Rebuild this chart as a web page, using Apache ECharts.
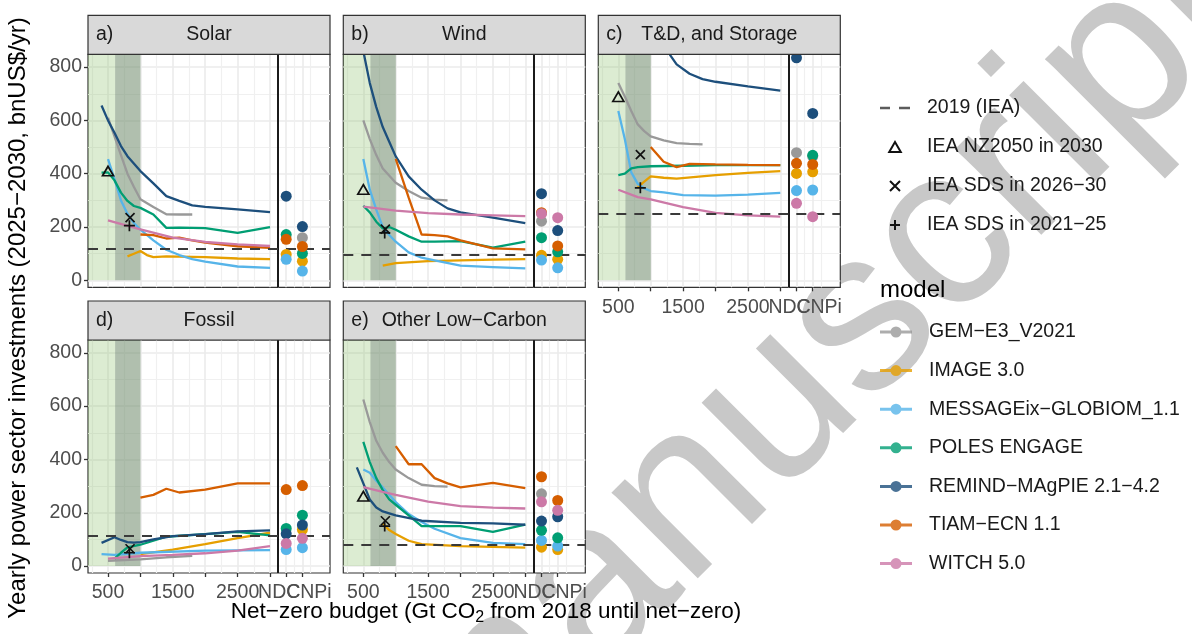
<!DOCTYPE html>
<html><head><meta charset="utf-8">
<script src="https://cdn.jsdelivr.net/npm/echarts@6/dist/echarts.min.js"></script>
<style>html,body{margin:0;padding:0;background:#fff}#c{width:1192px;height:634px}</style>
</head><body><div id="c"></div>
<script>
// ---------------- data ----------------
const MODELS = ['GEM\u2212E3_V2021','IMAGE 3.0','MESSAGEix\u2212GLOBIOM_1.1','POLES ENGAGE','REMIND\u2212MAgPIE 2.1\u22124.2','TIAM\u2212ECN 1.1','WITCH 5.0'];
const COLORS = ['#999999','#E69F00','#56B4E9','#009E73','#1D4F7C','#D55E00','#CC79A7'];
const PANEL_TITLES = ['Solar','Wind','T&D, and Storage','Fossil','Other Low\u2212Carbon'];
const PANEL_TAGS = ['a)','b)','c)','d)','e)'];
const REF_NAMES = ['2019 (IEA)','IEA NZ2050 in 2030','IEA SDS in 2026\u221230','IEA SDS in 2021\u221225'];
const X_TICKS = [500,1000,1500,2000,2500,3000];
const X_LABELS = [500,1500,2500];
const X_MINOR = [250,750,1250,1750,2250,2750,3125,3375,3625];
const Y_TICKS = [0,200,400,600,800];
const Y_MINOR = [100,300,500,700];
const POLICY = ['NDC','CNPi'];
const BUDGET_BANDS = [[null,1000],[610,1000]]; // light (from left edge), dark

// yearly investments per model: [budget, value]; order follows MODELS
const solarLines = [
  [[500,610],[600,540],[700,470],[800,400],[900,350],[1000,304],[1200,275],[1400,248],[1600,247],[1800,247]],
  [[800,90],[900,100],[1000,110],[1100,95],[1200,87],[1400,90],[2000,87],[2500,82],[3000,80]],
  [[500,455],[600,380],[700,300],[800,250],[900,215],[1000,190],[1200,150],[1400,115],[1600,95],[1800,80],[2000,70],[2500,52],[3000,47]],
  [[400,404],[500,405],[600,375],[700,329],[800,298],[900,279],[1000,272],[1200,247],[1400,197],[1600,198],[2000,196],[2500,178],[3000,200]],
  [[400,656],[500,600],[600,554],[700,504],[800,466],[1000,410],[1200,364],[1400,316],[1600,298],[1800,281],[2000,276],[2500,266],[3000,256]],
  [[1000,172],[1200,170],[1400,157],[1600,160],[1800,150],[2000,142],[2500,128],[3000,122]],
  [[500,225],[1000,191],[1500,160],[2000,144],[2500,135],[3000,129]]
];
const windLines = [
  [[500,600],[600,530],[700,470],[800,420],[1000,366],[1200,335],[1400,310],[1600,303],[1800,300]],
  [[800,55],[900,60],[1000,65],[1500,72],[2000,75],[2500,78],[3000,80]],
  [[500,455],[600,340],[700,265],[800,200],[900,170],[1000,145],[1200,105],[1400,85],[1600,75],[2000,55],[2500,50],[3000,45]],
  [[500,280],[600,255],[700,220],[800,195],[900,200],[1000,190],[1200,165],[1400,145],[1600,145],[2000,147],[2500,123],[3000,145]],
  [[500,860],[600,740],[700,650],[800,575],[900,520],[1000,465],[1200,390],[1400,340],[1600,300],[1800,270],[2000,255],[2500,235],[3000,215]],
  [[1000,456],[1200,310],[1400,172],[1600,170],[1800,165],[2000,150],[2500,120],[3000,116]],
  [[500,277],[1000,262],[1500,252],[2000,247],[2500,244],[3000,241]]
];
const tdLines = [
  [[500,740],[600,690],[700,635],[800,585],[900,560],[1000,540],[1200,525],[1400,515],[1600,512],[1800,510]],
  [[800,350],[900,370],[1000,390],[1200,385],[1400,382],[2000,395],[2500,403],[3000,410]],
  [[500,635],[600,530],[700,405],[800,362],[900,345],[1000,335],[1200,330],[1500,320],[2000,318],[2500,322],[3000,328]],
  [[500,395],[600,400],[700,420],[800,425],[1000,428],[1500,430],[2000,432],[2500,432],[3000,432]],
  [[1200,900],[1300,845],[1400,810],[1600,775],[1800,755],[2000,745],[2500,728],[3000,712]],
  [[1000,500],[1200,445],[1400,425],[1600,437],[2000,435],[2500,433],[3000,432]],
  [[500,340],[800,312],[1000,304],[1500,275],[2000,253],[2500,244],[3000,239]]
];
const fossilLines = [
  [[500,20],[1000,25],[1400,33],[1800,38]],
  [[1000,45],[1500,62],[2000,82],[2500,105],[3000,125]],
  [[400,45],[600,42],[1000,50],[2000,58],[3000,60]],
  [[600,28],[700,50],[800,70],[1000,80],[1400,110],[2000,120],[2500,128],[3000,115]],
  [[400,87],[600,108],[700,98],[800,90],[900,88],[1000,90],[1200,100],[1500,112],[2000,120],[2500,130],[3000,134]],
  [[1000,257],[1200,267],[1400,290],[1600,276],[2000,287],[2500,310],[3000,310]],
  [[500,28],[1000,37],[1500,42],[2000,48],[2500,58],[3000,75]]
];
const otherLines = [
  [[500,625],[600,540],[700,470],[800,425],[900,390],[1000,362],[1200,330],[1400,305],[1600,300],[1800,298]],
  [[800,160],[900,135],[1000,120],[1200,95],[1400,82],[2000,75],[2500,72],[3000,69]],
  [[500,362],[600,350],[700,320],[800,295],[1000,240],[1200,195],[1400,165],[1600,140],[2000,105],[2500,87],[3000,82]],
  [[500,466],[600,390],[700,330],[800,285],[900,250],[1000,230],[1200,190],[1400,150],[2000,150],[2500,128],[3000,155]],
  [[400,370],[500,310],[600,250],[700,220],[800,205],[1000,190],[1400,170],[2000,162],[2500,160],[3000,155]],
  [[1000,450],[1200,382],[1400,382],[1600,330],[1800,310],[2000,295],[2500,312],[3000,292]],
  [[500,296],[800,278],[1000,267],[1500,242],[2000,225],[2500,219],[3000,216]]
];
// policy scenarios (NDC, CNPi) per model, order follows MODELS
const solarNDC  = [null, 97, 79, 172, 316, 154, null];
const solarCNPi = [160, 72, 35, 101, 202, 127, null];
const windNDC   = [222, 94, 76, 160, 325, 254, 250];
const windCNPi  = [null, 79, 47, 107, 187, 129, 235];
const tdNDC     = [479, 401, 337, null, 835, 439, 289];
const tdCNPi    = [465, 407, 339, 469, 626, 435, 239];
const fossilNDC = [null, null, 62, 141, 121, 287, 85];
const fossilCNPi= [null, 137, 69, 191, 154, 302, 104];
const otherNDC  = [271, 71, 96, 134, 169, 335, 241];
const otherCNPi = [null, 62, 75, 106, 185, 246, 209];
// IEA references per panel
const iea2019   = [118, 97, 251, 112, 81];
const ieaNZ2050 = [[500,410],[500,341],[500,689],null,[500,262]];
const ieaSDS2630= [[840,235],[840,192],[840,472],[840,65],[840,170]];
const ieaSDS2125= [[830,205],[830,178],[840,347],[830,50],[830,150]];

const PANEL_LINES = [solarLines, windLines, tdLines, fossilLines, otherLines];
const PANEL_NDC = [solarNDC, windNDC, tdNDC, fossilNDC, otherNDC];
const PANEL_CNPI = [solarCNPi, windCNPi, tdCNPi, fossilCNPi, otherCNPi];

// ---------------- layout ----------------
const FONT = '"Liberation Sans", Arial, Helvetica, sans-serif';
const X_MIN = 191, X_MAX = 3926, NDC_X = 3250, CNPI_X = 3500, SEP_X = 3125;
const Y_MIN = -26, Y_MAX = 848;
const PANEL_X = [88, 343.3, 598.3, 88, 343.3];
const PLOT_TOP = [54.3, 54.3, 54.3, 340, 340];
const PLOT_W = 242, PLOT_H = 233, STRIP_H = 39;

const TRI = 'path://M5,0L10,8.66L0,8.66Z';
const CROSS = 'path://M0,0L10,10M10,0L0,10';
const PLUS = 'path://M5,0L5,10M0,5L10,5';
const ICON_DASH = 'path://M0,0L10,0L10,2.6L0,2.6Z M19,0L30,0L30,2.6L19,2.6Z';
const ICON_MODEL = 'path://M0,4.5L32,4.5L32,7.5L0,7.5Z M10.5,6A5.5,5.5 0 1 1 21.5,6A5.5,5.5 0 1 1 10.5,6Z';

const grids = [], xAxes = [], yAxes = [], series = [], graphics = [];
const labelStyle = {color: '#4d4d4d', fontSize: 19.5, fontFamily: FONT, hideOverlap: false};

// legend proxies (first series with each legend name)
series.push({type: 'scatter', name: REF_NAMES[0], xAxisIndex: 0, yAxisIndex: 0, data: [], itemStyle: {color: '#333'}});
MODELS.forEach((name, m) => series.push({type: 'scatter', name, xAxisIndex: 0, yAxisIndex: 0, data: [], itemStyle: {color: COLORS[m]}}));

const policyAxis = (p, show, value, text, pad) => ({gridIndex: p, type: 'value', min: X_MIN, max: X_MAX, position: 'bottom',
  axisLine: {show: false, onZero: false}, axisTick: {show: false}, splitLine: {show: false},
  axisLabel: Object.assign({show, customValues: [value], margin: 10, formatter: () => '{t|' + text + '}',
    rich: {t: {color: '#4d4d4d', fontSize: 19.5, fontFamily: FONT, padding: pad}}}, labelStyle)});

for (let p = 0; p < 5; p++) {
  grids.push({left: PANEL_X[p], top: PLOT_TOP[p], width: PLOT_W, height: PLOT_H, show: true,
    backgroundColor: '#fff', borderColor: '#333', borderWidth: 1.2, containLabel: false, outerBoundsMode: 'none'});
  const showX = p >= 2, showY = (p === 0 || p === 3);
  xAxes[p] = {gridIndex: p, type: 'value', min: X_MIN, max: X_MAX, position: 'bottom',
    axisLine: {show: false, onZero: false},
    axisTick: {show: showX, length: 4, lineStyle: {color: '#333', width: 1.3}, customValues: X_TICKS.concat([NDC_X, CNPI_X])},
    axisLabel: Object.assign({show: showX, customValues: X_LABELS, margin: 10, formatter: v => String(v)}, labelStyle),
    splitLine: {show: true, lineStyle: {color: '#ebebeb', width: 1.6}}};
  xAxes[5 + p] = {gridIndex: p, type: 'value', min: X_MIN, max: X_MAX, position: 'bottom',
    axisLine: {show: false, onZero: false}, axisLabel: {show: false},
    axisTick: {show: false, customValues: X_MINOR},
    splitLine: {show: true, lineStyle: {color: '#f0f0f0', width: 1.2}}};
  xAxes[10 + p] = policyAxis(p, showX, NDC_X, POLICY[0], [0, 14, 0, 0]);
  xAxes[15 + p] = policyAxis(p, showX, CNPI_X, POLICY[1], [0, 0, 0, 13]);
  yAxes[p] = {gridIndex: p, type: 'value', min: Y_MIN, max: Y_MAX,
    axisLine: {show: false, onZero: false},
    axisTick: {show: showY, length: 4, lineStyle: {color: '#333', width: 1.3}, customValues: Y_TICKS},
    axisLabel: Object.assign({show: showY, customValues: Y_TICKS, margin: 6, formatter: v => String(v)}, labelStyle),
    splitLine: {show: true, lineStyle: {color: '#ebebeb', width: 1.6}}};
  yAxes[5 + p] = {gridIndex: p, type: 'value', min: Y_MIN, max: Y_MAX,
    axisLine: {show: false, onZero: false}, axisLabel: {show: false},
    axisTick: {show: false, customValues: Y_MINOR},
    splitLine: {show: true, lineStyle: {color: '#f0f0f0', width: 1.2}}};

  // shaded budget ranges + separator of policy scenarios
  series.push({type: 'line', xAxisIndex: p, yAxisIndex: p, data: [], silent: true, z: 1,
    markArea: {silent: true, data: [
      [{xAxis: BUDGET_BANDS[0][0] === null ? X_MIN : BUDGET_BANDS[0][0], yAxis: 0, itemStyle: {color: 'rgba(138,192,105,0.30)'}}, {xAxis: BUDGET_BANDS[0][1], yAxis: Y_MAX}],
      [{xAxis: BUDGET_BANDS[1][0], yAxis: 0, itemStyle: {color: 'rgba(110,125,120,0.40)'}}, {xAxis: BUDGET_BANDS[1][1], yAxis: Y_MAX}]
    ]},
    markLine: {silent: true, symbol: 'none', label: {show: false}, lineStyle: {color: '#1a1a1a', width: 2, type: 'solid'}, data: [{xAxis: SEP_X}]}
  });
  // model lines
  PANEL_LINES[p].forEach((d, m) => {
    if (!d || !d.length) return;
    series.push({type: 'line', name: MODELS[m], xAxisIndex: p, yAxisIndex: p, data: d, showSymbol: false,
      symbol: 'circle', silent: true, z: 3, lineStyle: {color: COLORS[m], width: 2.3}, itemStyle: {color: COLORS[m]}});
  });
  // NDC / CNPi points
  MODELS.forEach((name, m) => {
    const pts = [];
    if (PANEL_NDC[p][m] != null) pts.push([NDC_X, PANEL_NDC[p][m]]);
    if (PANEL_CNPI[p][m] != null) pts.push([CNPI_X, PANEL_CNPI[p][m]]);
    if (!pts.length) return;
    series.push({type: 'scatter', name, xAxisIndex: p, yAxisIndex: p, data: pts, symbolSize: 11, silent: true, z: 6,
      itemStyle: {color: COLORS[m], opacity: 1}});
  });
  // IEA references
  series.push({type: 'line', name: REF_NAMES[0], xAxisIndex: p, yAxisIndex: p, data: [], symbol: 'none', silent: true, z: 5,
    lineStyle: {color: '#3a3a3a', width: 2.2, type: [10, 9]}, itemStyle: {color: '#3a3a3a'},
    markLine: {silent: true, symbol: 'none', label: {show: false}, lineStyle: {color: '#3a3a3a', width: 2.2, type: [10, 8]}, data: [{yAxis: iea2019[p]}]}});
  const mk = (name, pt, sym, size) => series.push({type: 'scatter', name, xAxisIndex: p, yAxisIndex: p, silent: true, z: 7,
    data: pt ? [pt] : [], symbol: sym, symbolSize: size,
    itemStyle: {color: 'rgba(0,0,0,0)', borderColor: '#111', borderWidth: 1.7, opacity: 1}});
  mk(REF_NAMES[1], ieaNZ2050[p], TRI, [11, 9.5]);
  mk(REF_NAMES[2], ieaSDS2630[p], CROSS, 9);
  mk(REF_NAMES[3], ieaSDS2125[p], PLUS, 11);

  // strips
  const stripTop = PLOT_TOP[p] - STRIP_H;
  graphics.push({type: 'rect', z: 10, shape: {x: PANEL_X[p], y: stripTop, width: PLOT_W, height: STRIP_H},
    style: {fill: '#d9d9d9', stroke: '#333', lineWidth: 1.2}});
  graphics.push({type: 'text', z: 11, x: PANEL_X[p] + 8, y: stripTop + STRIP_H / 2,
    style: {text: PANEL_TAGS[p], fill: '#1a1a1a', font: '19.5px ' + FONT, textVerticalAlign: 'middle', textAlign: 'left'}});
  graphics.push({type: 'text', z: 11, x: PANEL_X[p] + PLOT_W / 2, y: stripTop + STRIP_H / 2,
    style: {text: PANEL_TITLES[p], fill: '#1a1a1a', font: '19.5px ' + FONT, textVerticalAlign: 'middle', textAlign: 'center'}});
}

// watermark (behind panels)
graphics.unshift({type: 'text', z: -100, zlevel: 0, x: 497, y: 852, rotation: Math.PI / 4,
  style: {text: 'manuscript', fill: '#c8c8c8', font: '230px ' + FONT, textAlign: 'left', textVerticalAlign: 'bottom'}});
// axis titles and legend title
graphics.push({type: 'text', z: 11, x: 18, y: 318, rotation: Math.PI / 2,
  style: {text: 'Yearly power sector investments (2025\u22122030, bnUS$/yr)', fill: '#000', font: '24px ' + FONT, textAlign: 'center', textVerticalAlign: 'middle'}});
graphics.push({type: 'text', z: 11, x: 486, y: 612,
  style: {text: 'Net\u2212zero budget (Gt CO{s|2} from 2018 until net\u2212zero)', fill: '#000', font: '22.5px ' + FONT,
    textAlign: 'center', textVerticalAlign: 'middle',
    rich: {s: {fontSize: 16, fontFamily: FONT, fill: '#000', padding: [12, 0, 0, 0]}}}});
graphics.push({type: 'text', z: 11, x: 880, y: 290,
  style: {text: 'model', fill: '#000', font: '24px ' + FONT, textAlign: 'left', textVerticalAlign: 'middle'}});

const legendText = {fontSize: 19.5, color: '#1a1a1a', fontFamily: FONT, padding: [0, 0, 0, 12]};
const option = {
  animation: false,
  textStyle: {fontFamily: FONT},
  grid: grids, xAxis: xAxes, yAxis: yAxes, series,
  graphic: {elements: graphics},
  legend: [
    {orient: 'vertical', left: 880, top: 98, padding: 0, itemWidth: 30, itemHeight: 10, itemGap: 19, selectedMode: false,
     textStyle: legendText,
     data: [{name: REF_NAMES[0], icon: ICON_DASH}, REF_NAMES[1], REF_NAMES[2], REF_NAMES[3]]},
    {orient: 'vertical', left: 880, top: 322, padding: 0, itemWidth: 32, itemHeight: 11, itemGap: 18.6, selectedMode: false,
     textStyle: legendText, data: MODELS.map(name => ({name, icon: ICON_MODEL}))}
  ]
};
const chart = echarts.init(document.getElementById('c'), null, {renderer: 'canvas'});
chart.setOption(option);
</script></body></html>
